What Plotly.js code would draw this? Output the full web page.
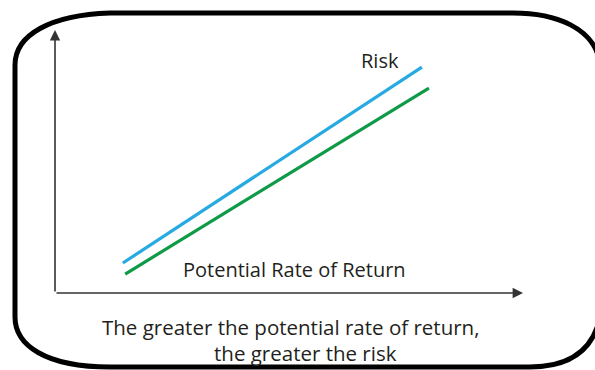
<!DOCTYPE html>
<html>
<head>
<meta charset="utf-8">
<script src="https://cdn.plot.ly/plotly-3.0.1.min.js"></script>
<style>html,body{margin:0;padding:0;background:#fff;}#chart{width:595px;height:370px;}</style>
</head>
<body>
<div id="chart"></div>
<script>
// ---- data (axis units: 0..10 on both axes) ----
var returnRisk = [1.45, 7.84];     // x of "Risk" line
var riskValues = [1.14, 8.59];     // y of "Risk" line
var returnReturn = [1.50, 7.99];   // x of "Return" line
var returnValues = [0.72, 7.79];   // y of "Return" line
var riskLabel = "Risk";
var xLabel = "Potential Rate of Return";
var captionLine1 = "The greater the potential rate of return,";
var captionLine2 = "the greater the risk";

// ---- layout geometry ----
var W = 595, H = 370;
var ox = 55, oy = 293, xEndPx = 523, yEndPx = 30;
var sx = (xEndPx - ox) / 10, sy = (oy - yEndPx) / 10;
var xr = [-ox / sx, (W - ox) / sx];
var yr = [-(H - oy) / sy, oy / sy];
function px(x) { return x / W; }
function py(y) { return 1 - y / H; }
function P(x, y) { return px(x).toFixed(5) + ',' + py(y).toFixed(5); }

var border = 'M' + P(15, 65) + ' C' + P(15, 35) + ' ' + P(50, 15) + ' ' + P(110, 13) +
  ' L' + P(513, 13) + ' C' + P(560, 13) + ' ' + P(590, 30) + ' ' + P(598, 55) +
  ' L' + P(598, 325) + ' C' + P(590, 350) + ' ' + P(570, 367) + ' ' + P(530, 367) +
  ' L' + P(110, 367) + ' C' + P(45, 367) + ' ' + P(15, 345) + ' ' + P(15, 317) + ' Z';

var txt = '#231f20';
var font = 'Open Sans, Noto Sans, sans-serif';

var data = [
  {x: returnRisk, y: riskValues, mode: 'lines', line: {color: '#27aae1', width: 3.2}, hoverinfo: 'skip'},
  {x: returnReturn, y: returnValues, mode: 'lines', line: {color: '#0f9a48', width: 3.2}, hoverinfo: 'skip'}
];

var layout = {
  width: W, height: H,
  margin: {l: 0, r: 0, t: 0, b: 0},
  paper_bgcolor: '#fff', plot_bgcolor: 'rgba(0,0,0,0)',
  showlegend: false,
  xaxis: {range: xr, visible: false, fixedrange: true},
  yaxis: {range: yr, visible: false, fixedrange: true},
  shapes: [
    {type: 'path', xref: 'paper', yref: 'paper', path: border, line: {color: '#000', width: 5}, fillcolor: 'rgba(0,0,0,0)'}
  ],
  annotations: [
    {x: 10, y: 0, ax: 0, ay: 0, xref: 'x', yref: 'y', axref: 'x', ayref: 'y', text: '', showarrow: true,
     arrowhead: 2, arrowsize: 1.3, arrowwidth: 1.6, arrowcolor: '#333'},
    {x: 0, y: 10, ax: 0, ay: 0, xref: 'x', yref: 'y', axref: 'x', ayref: 'y', text: '', showarrow: true,
     arrowhead: 2, arrowsize: 1.3, arrowwidth: 1.6, arrowcolor: '#333'},
    {x: px(380), y: py(60), xref: 'paper', yref: 'paper', text: riskLabel, showarrow: false,
     xanchor: 'center', yanchor: 'middle', font: {family: font, size: 20, color: txt}},
    {x: px(294), y: py(269), xref: 'paper', yref: 'paper', text: xLabel, showarrow: false,
     xanchor: 'center', yanchor: 'middle', font: {family: font, size: 20, color: txt}},
    {x: px(290), y: py(327), xref: 'paper', yref: 'paper', text: captionLine1, showarrow: false,
     xanchor: 'center', yanchor: 'middle', font: {family: font, size: 20.5, color: txt}},
    {x: px(305), y: py(353), xref: 'paper', yref: 'paper', text: captionLine2, showarrow: false,
     xanchor: 'center', yanchor: 'middle', font: {family: font, size: 20.5, color: txt}}
  ]
};

Plotly.newPlot('chart', data, layout, {staticPlot: true, displayModeBar: false});
</script>
</body>
</html>
